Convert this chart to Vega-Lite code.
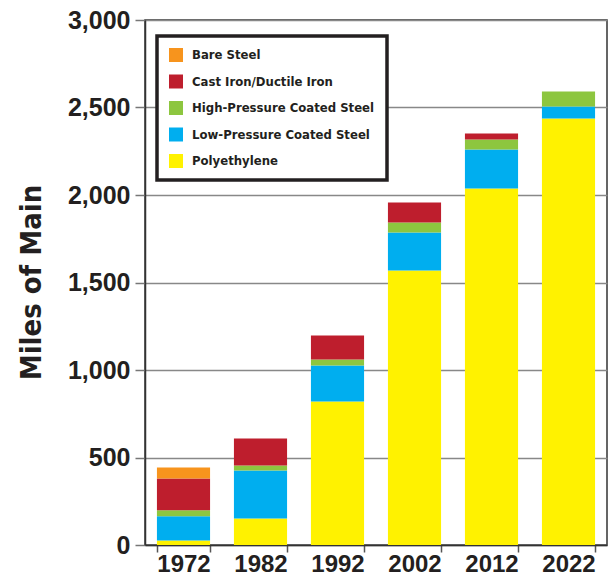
{
  "$schema": "https://vega.github.io/schema/vega-lite/v6.json",
  "autosize": "none",
  "width": 462,
  "height": 525,
  "padding": {"left": 145, "top": 20, "right": 9, "bottom": 31},
  "background": "white",
  "config": {
    "view": {"stroke": "#333333", "strokeWidth": 1.5},
    "font": "Liberation Sans"
  },
  "data": {
    "values": [
      {"year": "1972", "type": "Polyethylene", "miles": 26},
      {"year": "1972", "type": "Low-Pressure Coated Steel", "miles": 139},
      {"year": "1972", "type": "High-Pressure Coated Steel", "miles": 34},
      {"year": "1972", "type": "Cast Iron/Ductile Iron", "miles": 181},
      {"year": "1972", "type": "Bare Steel", "miles": 63},
      {"year": "1982", "type": "Polyethylene", "miles": 151},
      {"year": "1982", "type": "Low-Pressure Coated Steel", "miles": 275},
      {"year": "1982", "type": "High-Pressure Coated Steel", "miles": 28},
      {"year": "1982", "type": "Cast Iron/Ductile Iron", "miles": 155},
      {"year": "1992", "type": "Polyethylene", "miles": 820},
      {"year": "1992", "type": "Low-Pressure Coated Steel", "miles": 206},
      {"year": "1992", "type": "High-Pressure Coated Steel", "miles": 34},
      {"year": "1992", "type": "Cast Iron/Ductile Iron", "miles": 137},
      {"year": "2002", "type": "Polyethylene", "miles": 1569},
      {"year": "2002", "type": "Low-Pressure Coated Steel", "miles": 217},
      {"year": "2002", "type": "High-Pressure Coated Steel", "miles": 57},
      {"year": "2002", "type": "Cast Iron/Ductile Iron", "miles": 114},
      {"year": "2012", "type": "Polyethylene", "miles": 2037},
      {"year": "2012", "type": "Low-Pressure Coated Steel", "miles": 223},
      {"year": "2012", "type": "High-Pressure Coated Steel", "miles": 57},
      {"year": "2012", "type": "Cast Iron/Ductile Iron", "miles": 34},
      {"year": "2022", "type": "Polyethylene", "miles": 2437},
      {"year": "2022", "type": "Low-Pressure Coated Steel", "miles": 69},
      {"year": "2022", "type": "High-Pressure Coated Steel", "miles": 85}
    ]
  },
  "mark": {"type": "bar"},
  "encoding": {
    "x": {
      "field": "year",
      "type": "nominal",
      "scale": {"paddingInner": 0.31, "paddingOuter": 0.155},
      "axis": {
        "title": null,
        "labelAngle": 0,
        "labelFont": "Liberation Sans",
        "labelFontWeight": "bold",
        "labelFontSize": 24,
        "labelColor": "#231F20",
        "labelPadding": 0,
        "tickBand": "extent",
        "tickSize": 7,
        "tickColor": "#555555",
        "tickWidth": 1.5,
        "domainColor": "#333333",
        "domainWidth": 1.5,
        "grid": false
      }
    },
    "y": {
      "field": "miles",
      "type": "quantitative",
      "aggregate": "sum",
      "stack": "zero",
      "scale": {"domain": [0, 3000], "nice": false},
      "axis": {
        "title": "Miles of Main",
        "titleFont": "DejaVu Sans Condensed",
        "titleFontWeight": "bold",
        "titleFontSize": 29,
        "titleColor": "#231F20",
        "titleAngle": -90,
        "titleX": -114,
        "titleY": 262,
        "titleAlign": "center",
        "titleBaseline": "middle",
        "values": [0, 500, 1000, 1500, 2000, 2500, 3000],
        "format": ",.0f",
        "labelFont": "Liberation Sans",
        "labelFontWeight": "bold",
        "labelFontSize": 25,
        "labelColor": "#231F20",
        "labelPadding": 5,
        "tickSize": 10,
        "tickColor": "#777777",
        "tickWidth": 1.5,
        "domainColor": "#333333",
        "domainWidth": 1.5,
        "grid": true,
        "gridColor": "#888888",
        "gridWidth": 1.5
      }
    },
    "color": {
      "field": "type",
      "type": "nominal",
      "scale": {
        "domain": ["Bare Steel", "Cast Iron/Ductile Iron", "High-Pressure Coated Steel", "Low-Pressure Coated Steel", "Polyethylene"],
        "range": ["#F7941D", "#BE1E2D", "#8DC63F", "#00AEEF", "#FFF200"]
      },
      "legend": {
        "title": null,
        "orient": "none",
        "legendX": 12,
        "legendY": 16,
        "strokeColor": "#231F20",
        "fillColor": "white",
        "padding": 12,
        "symbolType": "square",
        "symbolSize": 196,
        "symbolStrokeWidth": 0,
        "symbolOpacity": 1,
        "labelFont": "DejaVu Sans Condensed",
        "labelFontWeight": "bold",
        "labelFontSize": 13,
        "labelColor": "#231F20",
        "labelOffset": 9,
        "labelLimit": 300,
        "rowPadding": 12.5,
        "encode": {
          "legend": {"update": {"strokeWidth": {"value": 3.5}}}
        }
      }
    },
    "order": {"field": "type", "sort": "descending"}
  }
}
